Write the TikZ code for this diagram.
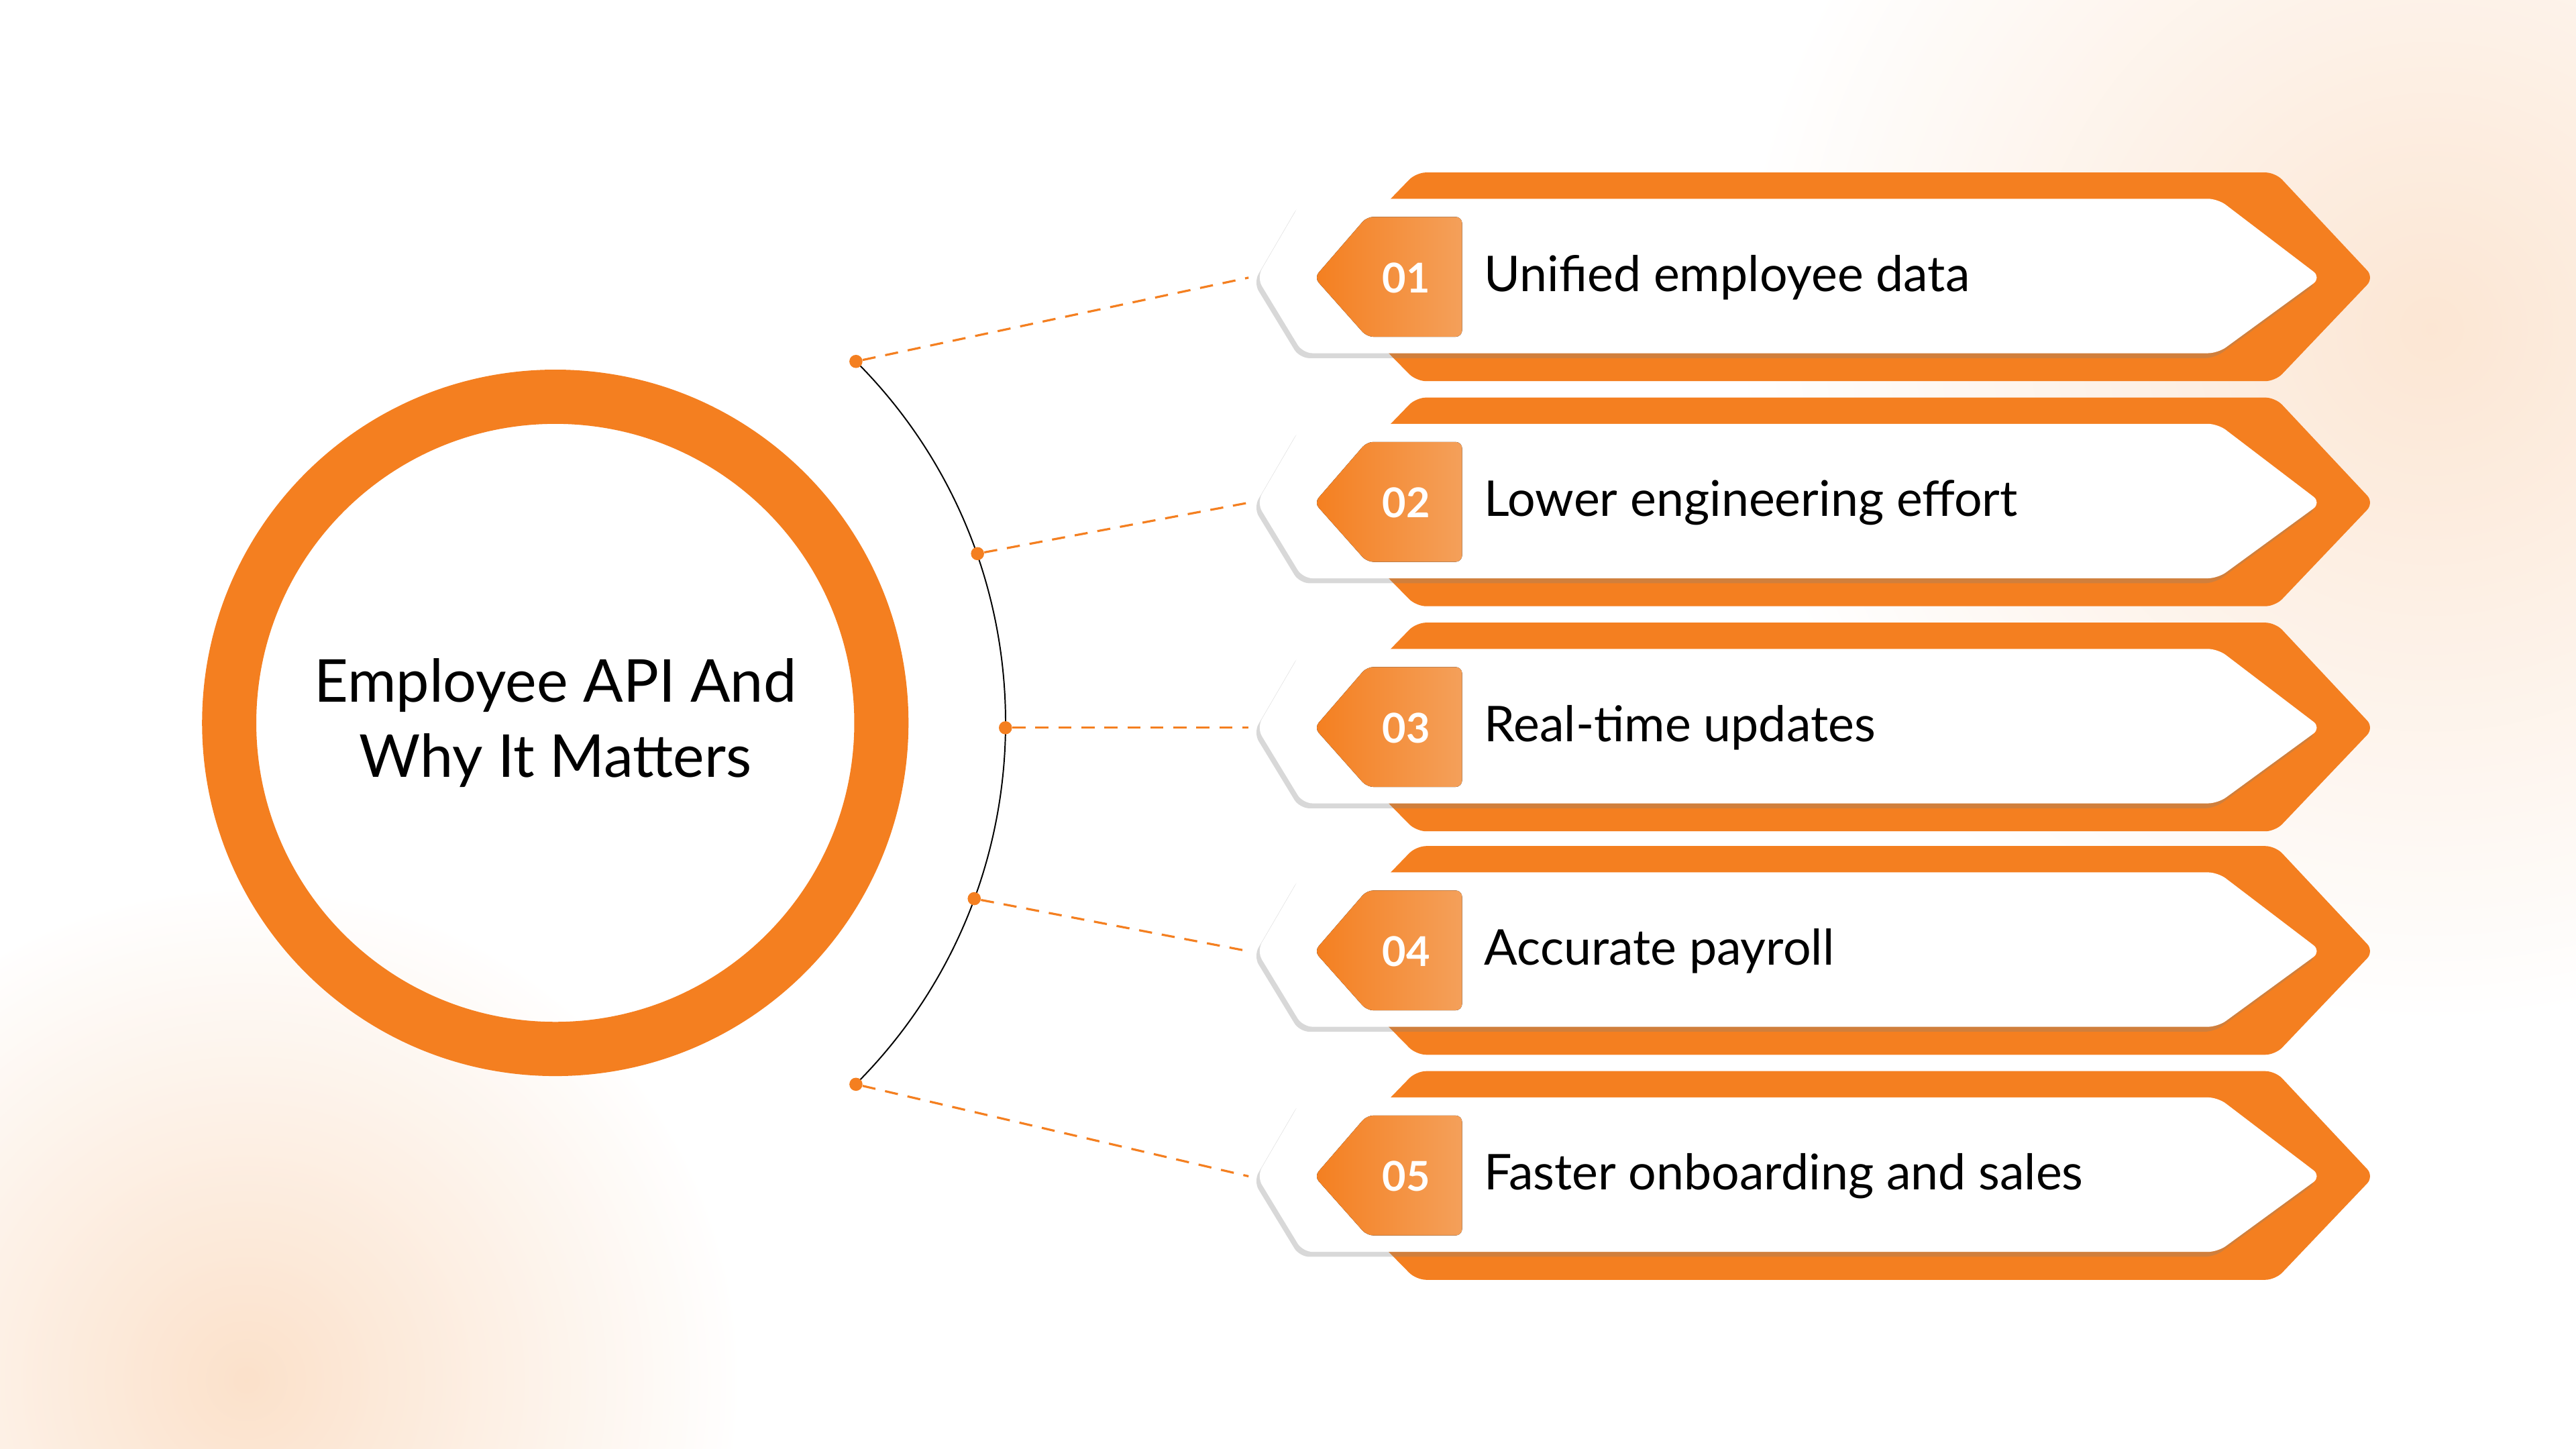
\documentclass[tikz,border=0pt]{standalone}
\usepackage{fontspec}
\setmainfont{Lato}
\usetikzlibrary{shadows, positioning}
\definecolor{brand}{HTML}{F47F20}
\definecolor{brandlight}{HTML}{F4A05A}
\definecolor{glow}{HTML}{F9C9A0}

\begin{document}
\begin{tikzpicture}[x=1pt,y=-1pt,
    back/.style={fill=brand, rounded corners=6pt},
    front/.style={fill=white, rounded corners=6pt, drop shadow={shadow xshift=-2pt, shadow yshift=-3pt, opacity=.3}},
    tab/.style={left color=brand, right color=brandlight, rounded corners=4pt},
    num/.style={text=white, font=\bfseries\fontsize{25}{25}\selectfont},
    label/.style={anchor=west, font=\fontsize{30}{30}\selectfont},
    dot/.style={circle, fill=brand, inner sep=0pt, minimum size=8pt},
    link/.style={brand, dashed, line width=1.3pt, dash pattern=on 8pt off 6pt}]
    % background and glows
    \fill[white] (0,0) rectangle (1568,882);
    \useasboundingbox (0,0) rectangle (1568,882);
    \begin{scope}
        \clip (0,0) rectangle (1568,882);
        \shade[inner color=glow, outer color=white, opacity=.45] (1480,200) circle (420);
        \shade[inner color=glow, outer color=white, opacity=.55] (150,840) circle (300);
    \end{scope}

    % hub
    \draw[brand, line width=33pt] (338,440) circle (198.5);
    \node[align=center, font=\fontsize{36}{46}\selectfont] (hub) at (338,440) {Employee API And\\Why It Matters};
    \draw[black, line width=0.8pt] (521,220) arc[start angle=-45, end angle=45, radius=311];

    % items
    \foreach \i/\y/\dx/\dy/\txt in {1/169/521/220/Unified employee data,
                                2/306/595/337/Lower engineering effort,
                                3/443/612/443/Real-time updates,
                                4/579/593/547/Accurate payroll,
                                5/716/521/660/Faster onboarding and sales} {
        \fill[back] (862,\y-64) -- (1385,\y-64) -- (1445,\y) -- (1385,\y+63) -- (862,\y+63) -- (800,\y) -- cycle;
        \fill[front] (793,\y-48) -- (1350,\y-48) -- (1413,\y) -- (1350,\y+46) -- (793,\y+46) -- (765,\y) -- cycle;
        \fill[tab] (832,\y-37) -- (890,\y-37) -- (890,\y+36) -- (832,\y+36) -- (800,\y) -- cycle;
        \node[num] (num\i) at (856,\y) {0\i};
        \node[label] (item\i) at (900,\y) {\txt};
        \coordinate (tip\i) at (760,\y);
        \node[dot] (dot\i) at (\dx,\dy) {};
        \draw[link] (dot\i) -- (tip\i);
    }
\end{tikzpicture}
\end{document}
